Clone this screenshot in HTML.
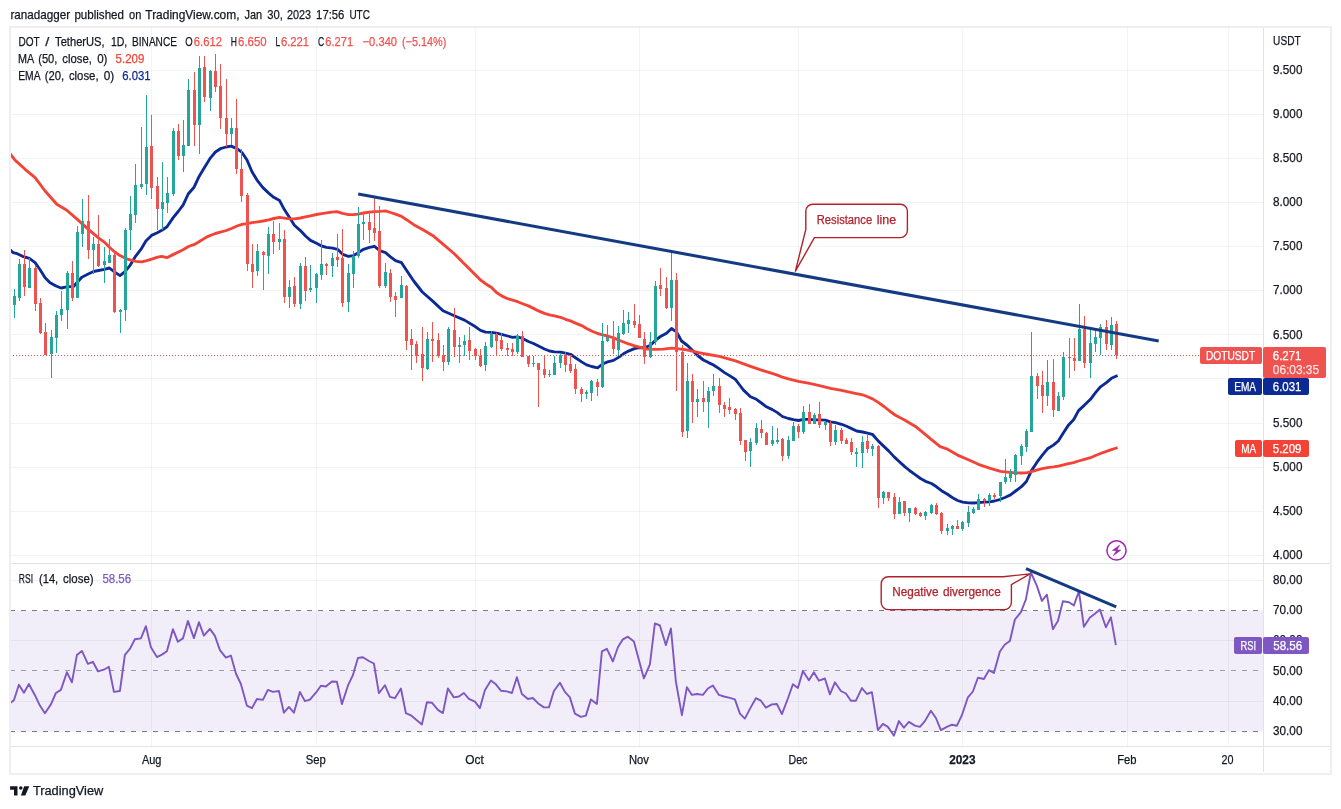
<!DOCTYPE html>
<html lang="en"><head><meta charset="utf-8"><title>DOT / TetherUS chart</title>
<style>html,body{margin:0;padding:0;background:#fff;}body{width:1341px;height:809px;overflow:hidden;}svg{display:block;}</style>
</head><body>
<svg width="1341" height="809" viewBox="0 0 1341 809" font-family='"Liberation Sans", "DejaVu Sans", sans-serif' shape-rendering="auto">
<rect width="1341" height="809" fill="#fff"/>
<rect x="10" y="27" width="1321" height="747" fill="#fff" stroke="#edeff4" stroke-width="2" shape-rendering="crispEdges"/>
<g stroke="#2a2e39" stroke-opacity="0.06" stroke-width="1" shape-rendering="crispEdges">
<line x1="151.5" y1="28" x2="151.5" y2="746"/>
<line x1="316.5" y1="28" x2="316.5" y2="746"/>
<line x1="475.5" y1="28" x2="475.5" y2="746"/>
<line x1="639.5" y1="28" x2="639.5" y2="746"/>
<line x1="798.5" y1="28" x2="798.5" y2="746"/>
<line x1="962.5" y1="28" x2="962.5" y2="746"/>
<line x1="1127.5" y1="28" x2="1127.5" y2="746"/>
<line x1="1228.5" y1="28" x2="1228.5" y2="746"/>
<line x1="11" y1="70.5" x2="1263" y2="70.5"/>
<line x1="11" y1="114.5" x2="1263" y2="114.5"/>
<line x1="11" y1="158.5" x2="1263" y2="158.5"/>
<line x1="11" y1="202.5" x2="1263" y2="202.5"/>
<line x1="11" y1="246.5" x2="1263" y2="246.5"/>
<line x1="11" y1="290.5" x2="1263" y2="290.5"/>
<line x1="11" y1="334.5" x2="1263" y2="334.5"/>
<line x1="11" y1="378.5" x2="1263" y2="378.5"/>
<line x1="11" y1="423.5" x2="1263" y2="423.5"/>
<line x1="11" y1="467.5" x2="1263" y2="467.5"/>
<line x1="11" y1="511.5" x2="1263" y2="511.5"/>
<line x1="11" y1="555.5" x2="1263" y2="555.5"/>
<line x1="11" y1="580.5" x2="1263" y2="580.5"/>
<line x1="11" y1="640.5" x2="1263" y2="640.5"/>
<line x1="11" y1="701.5" x2="1263" y2="701.5"/>
</g>
<rect x="11" y="610.5" width="1252" height="121.0" fill="#7e57c2" fill-opacity="0.1"/>
<line x1="11" y1="610.5" x2="1263" y2="610.5" stroke="#787b86" stroke-width="1" stroke-dasharray="5 6" stroke-dashoffset="0.7" shape-rendering="crispEdges"/>
<line x1="11" y1="731.5" x2="1263" y2="731.5" stroke="#787b86" stroke-width="1" stroke-dasharray="5 6" stroke-dashoffset="0.7" shape-rendering="crispEdges"/>
<line x1="11" y1="670.5" x2="1263" y2="670.5" stroke="#787b86" stroke-opacity="0.7" stroke-width="1" stroke-dasharray="5 6" stroke-dashoffset="0.7" shape-rendering="crispEdges"/>
<g stroke="#e0e3eb" stroke-width="1" shape-rendering="crispEdges">
<line x1="11" y1="563.5" x2="1330" y2="563.5"/>
<line x1="11" y1="746.5" x2="1330" y2="746.5"/>
<line x1="1263.5" y1="28" x2="1263.5" y2="772"/>
</g>
<clipPath id="pane"><rect x="11" y="28" width="1252" height="718"/></clipPath>
<path clip-path="url(#pane)" d="M8.0 247.8 L10.4 250.0 L13.0 252.6 L17.3 253.7 L22.5 256.3 L29.4 258.4 L35.1 262.6 L40.1 269.8 L45.1 277.7 L50.1 282.7 L56.0 286.0 L61.0 288.0 L66.8 286.9 L73.5 286.5 L77.7 281.8 L81.8 277.2 L87.7 274.3 L93.5 271.5 L98.5 270.5 L104.4 269.3 L109.4 268.0 L114.4 271.9 L120.0 275.6 L125.0 271.6 L130.1 265.3 L135.1 256.9 L140.9 249.4 L145.9 241.0 L151.5 235.4 L157.3 232.7 L162.3 230.0 L167.0 226.8 L173.2 217.6 L178.2 211.5 L183.2 204.8 L188.2 194.0 L194.1 187.2 L199.1 176.4 L204.0 168.2 L210.5 157.8 L215.4 152.0 L220.4 148.7 L226.0 147.0 L231.1 146.1 L237.0 148.6 L242.0 152.5 L247.0 160.0 L252.0 171.7 L257.0 180.1 L262.9 187.6 L268.7 193.1 L273.7 197.3 L279.6 200.6 L284.5 209.8 L289.5 217.6 L294.4 225.2 L300.4 230.6 L305.5 236.0 L310.5 240.4 L316.5 243.3 L321.5 246.0 L326.5 247.3 L332.6 248.1 L337.6 249.3 L342.6 254.3 L348.4 256.3 L353.4 255.6 L358.4 252.6 L363.5 249.3 L369.5 247.3 L374.5 246.3 L379.5 250.5 L385.5 252.6 L390.5 256.8 L395.5 260.7 L401.5 262.7 L406.5 270.2 L413.7 281.0 L422.3 292.0 L433.0 301.4 L443.0 310.8 L454.3 315.7 L464.5 320.1 L475.5 326.8 L480.5 330.4 L485.5 332.1 L491.5 332.3 L496.5 333.1 L501.6 334.3 L507.6 336.0 L512.6 337.3 L517.6 336.8 L522.6 338.5 L528.4 341.5 L533.5 343.5 L538.5 346.0 L544.5 349.0 L549.5 351.0 L554.5 351.8 L560.5 352.2 L565.5 353.2 L570.5 354.3 L575.5 357.7 L581.6 361.9 L586.6 364.9 L591.6 366.5 L597.6 367.9 L602.6 364.0 L607.6 361.9 L613.5 360.4 L618.5 357.4 L623.5 353.8 L628.4 351.1 L634.4 348.6 L639.4 347.7 L644.5 347.7 L650.5 345.2 L655.5 340.2 L660.5 336.5 L666.5 333.2 L671.5 328.5 L676.5 331.9 L681.5 341.0 L687.5 345.5 L692.6 350.5 L697.6 355.5 L703.4 360.0 L708.5 362.6 L713.5 365.0 L719.4 368.9 L724.5 372.6 L729.5 375.6 L735.2 379.2 L740.0 385.5 L743.5 390.1 L750.5 396.8 L756.4 399.3 L761.4 403.0 L766.4 406.8 L772.4 409.6 L777.4 412.6 L782.4 416.5 L788.4 418.5 L793.5 419.7 L798.5 420.5 L803.5 419.3 L809.5 419.3 L814.5 419.8 L819.5 419.8 L825.5 420.2 L830.5 421.8 L835.5 422.7 L841.6 424.3 L846.6 426.3 L851.6 428.6 L856.6 431.0 L862.6 432.0 L867.6 433.2 L872.6 434.5 L878.6 441.4 L883.6 446.1 L888.6 450.9 L894.4 457.1 L899.4 461.8 L904.5 466.4 L909.5 470.5 L915.5 474.8 L920.5 478.5 L925.5 481.3 L931.5 483.5 L936.5 486.8 L941.5 490.7 L947.5 494.3 L952.6 497.7 L957.6 500.5 L962.6 502.2 L968.4 502.9 L973.4 503.0 L978.4 502.7 L984.5 502.2 L989.5 501.9 L994.5 501.0 L1000.5 499.3 L1005.5 497.2 L1010.5 494.9 L1015.6 491.0 L1021.4 486.7 L1026.4 481.5 L1031.5 470.6 L1037.0 462.2 L1042.3 455.2 L1047.5 448.8 L1053.4 445.1 L1058.3 441.0 L1063.3 433.0 L1068.6 424.9 L1073.8 419.5 L1078.5 410.6 L1084.5 405.1 L1090.5 399.3 L1095.5 392.6 L1100.5 386.8 L1106.4 382.6 L1111.4 378.3 L1116.5 376.0 L1117.6 375.6" fill="none" stroke="#0c2a94" stroke-width="2.85" stroke-linejoin="round" stroke-linecap="butt"/>
<path clip-path="url(#pane)" d="M8.0 151.2 L10.4 154.2 L15.0 160.1 L25.1 169.3 L35.1 177.6 L45.1 191.0 L56.8 204.3 L66.8 210.2 L77.3 219.4 L88.4 229.4 L98.5 237.8 L105.0 242.7 L110.0 247.7 L115.0 252.2 L120.0 255.6 L125.9 258.6 L130.9 260.2 L135.9 261.4 L141.8 261.9 L146.8 260.7 L151.8 259.1 L157.6 257.2 L161.8 256.4 L166.8 257.7 L173.5 254.4 L178.5 251.9 L183.5 249.4 L188.5 246.5 L194.4 244.4 L200.2 241.0 L206.9 236.9 L215.3 233.5 L220.3 232.2 L226.4 230.5 L232.0 228.2 L237.0 226.0 L242.0 224.4 L247.0 223.7 L252.0 222.7 L257.8 221.8 L262.9 221.0 L268.7 219.8 L273.7 218.5 L279.6 217.3 L284.6 218.1 L289.6 218.8 L294.6 218.9 L300.4 218.0 L305.4 216.9 L310.5 215.8 L316.5 214.5 L321.5 213.7 L326.5 212.9 L331.7 212.2 L336.9 211.7 L342.6 213.4 L348.4 214.6 L353.4 214.7 L358.4 214.2 L363.5 213.0 L369.5 212.2 L374.5 211.7 L379.5 211.4 L385.5 210.9 L390.5 212.5 L395.5 214.2 L401.5 216.4 L406.5 219.7 L413.7 224.7 L422.1 229.3 L432.6 235.4 L442.1 243.4 L454.0 253.5 L464.5 264.0 L475.5 275.0 L480.5 280.0 L485.5 283.7 L491.5 287.5 L496.5 292.5 L501.6 295.9 L507.6 298.7 L512.6 300.1 L517.6 301.7 L522.6 303.7 L528.4 305.9 L533.5 308.4 L538.5 310.9 L544.5 313.4 L549.5 314.8 L554.5 315.9 L560.5 317.3 L565.5 319.3 L570.5 320.9 L575.5 323.1 L581.6 325.6 L586.6 328.4 L591.6 331.0 L597.6 333.5 L602.6 334.8 L607.6 336.0 L613.6 337.8 L618.5 340.0 L623.5 342.0 L628.4 343.9 L634.0 345.7 L639.4 347.2 L646.8 349.1 L655.5 349.4 L663.5 349.1 L671.5 348.1 L676.5 348.6 L685.2 349.6 L692.6 351.2 L698.6 352.7 L708.4 354.5 L719.5 356.4 L727.5 358.6 L735.5 360.9 L743.0 363.6 L750.5 366.4 L758.5 369.1 L766.4 371.7 L772.0 373.4 L777.4 375.1 L782.4 377.2 L788.4 378.9 L798.5 381.4 L809.5 383.4 L819.5 385.6 L830.5 388.4 L841.6 390.4 L851.6 392.6 L862.6 394.8 L867.6 396.8 L872.6 398.9 L878.6 402.6 L884.0 406.5 L889.5 410.8 L895.1 415.0 L904.5 420.0 L915.5 426.4 L925.5 434.7 L931.5 439.7 L940.2 446.7 L947.5 449.2 L957.6 455.1 L968.4 459.8 L978.4 464.3 L989.5 468.1 L1000.5 471.3 L1010.3 472.3 L1015.8 472.8 L1021.4 473.0 L1026.4 472.8 L1031.4 471.6 L1037.4 469.9 L1042.4 468.6 L1047.4 467.6 L1053.4 466.9 L1058.4 466.2 L1063.4 464.9 L1068.5 463.7 L1073.5 462.6 L1078.5 461.0 L1084.5 459.3 L1090.5 457.7 L1095.5 455.5 L1100.5 453.5 L1106.4 451.3 L1111.4 449.7 L1116.5 448.0 L1117.6 447.6" fill="none" stroke="#f44336" stroke-width="2.85" stroke-linejoin="round" stroke-linecap="butt"/>
<g shape-rendering="crispEdges">
<rect x="14.0" y="289" width="1" height="29" fill="#26a69a"/>
<rect x="13.0" y="296" width="3" height="9" fill="#26a69a"/>
<rect x="19.0" y="259" width="1" height="42" fill="#26a69a"/>
<rect x="18.0" y="264" width="3" height="34" fill="#26a69a"/>
<rect x="24.0" y="250" width="1" height="46" fill="#ef5350"/>
<rect x="23.0" y="264" width="3" height="23" fill="#ef5350"/>
<rect x="29.0" y="258" width="1" height="30" fill="#26a69a"/>
<rect x="28.0" y="268" width="3" height="20" fill="#26a69a"/>
<rect x="35.0" y="266" width="1" height="45" fill="#ef5350"/>
<rect x="34.0" y="268" width="3" height="36" fill="#ef5350"/>
<rect x="40.0" y="298" width="1" height="36" fill="#ef5350"/>
<rect x="39.0" y="303" width="3" height="30" fill="#ef5350"/>
<rect x="45.0" y="323" width="1" height="32" fill="#ef5350"/>
<rect x="44.0" y="332" width="3" height="23" fill="#ef5350"/>
<rect x="51.0" y="330" width="1" height="48" fill="#26a69a"/>
<rect x="50.0" y="337" width="3" height="17" fill="#26a69a"/>
<rect x="56.0" y="311" width="1" height="42" fill="#26a69a"/>
<rect x="55.0" y="315" width="3" height="23" fill="#26a69a"/>
<rect x="61.0" y="291" width="1" height="30" fill="#26a69a"/>
<rect x="60.0" y="309" width="3" height="6" fill="#26a69a"/>
<rect x="67.0" y="271" width="1" height="58" fill="#26a69a"/>
<rect x="66.0" y="273" width="3" height="37" fill="#26a69a"/>
<rect x="72.0" y="261" width="1" height="40" fill="#ef5350"/>
<rect x="71.0" y="273" width="3" height="25" fill="#ef5350"/>
<rect x="77.0" y="226" width="1" height="72" fill="#26a69a"/>
<rect x="76.0" y="232" width="3" height="66" fill="#26a69a"/>
<rect x="82.0" y="199" width="1" height="48" fill="#26a69a"/>
<rect x="81.0" y="221" width="3" height="13" fill="#26a69a"/>
<rect x="88.0" y="195" width="1" height="64" fill="#ef5350"/>
<rect x="87.0" y="221" width="3" height="29" fill="#ef5350"/>
<rect x="93.0" y="237" width="1" height="37" fill="#26a69a"/>
<rect x="92.0" y="244" width="3" height="6" fill="#26a69a"/>
<rect x="98.0" y="215" width="1" height="52" fill="#ef5350"/>
<rect x="97.0" y="244" width="3" height="22" fill="#ef5350"/>
<rect x="104.0" y="247" width="1" height="36" fill="#26a69a"/>
<rect x="103.0" y="261" width="3" height="4" fill="#26a69a"/>
<rect x="109.0" y="239" width="1" height="24" fill="#26a69a"/>
<rect x="108.0" y="255" width="3" height="8" fill="#26a69a"/>
<rect x="114.0" y="252" width="1" height="61" fill="#ef5350"/>
<rect x="113.0" y="255" width="3" height="57" fill="#ef5350"/>
<rect x="120.0" y="309" width="1" height="24" fill="#26a69a"/>
<rect x="119.0" y="310" width="3" height="2" fill="#26a69a"/>
<rect x="125.0" y="228" width="1" height="93" fill="#26a69a"/>
<rect x="124.0" y="230" width="3" height="80" fill="#26a69a"/>
<rect x="130.0" y="196" width="1" height="54" fill="#26a69a"/>
<rect x="129.0" y="214" width="3" height="16" fill="#26a69a"/>
<rect x="135.0" y="164" width="1" height="59" fill="#26a69a"/>
<rect x="134.0" y="185" width="3" height="30" fill="#26a69a"/>
<rect x="141.0" y="127" width="1" height="62" fill="#26a69a"/>
<rect x="140.0" y="184" width="3" height="3" fill="#26a69a"/>
<rect x="146.0" y="95" width="1" height="100" fill="#26a69a"/>
<rect x="145.0" y="147" width="3" height="37" fill="#26a69a"/>
<rect x="151.0" y="115" width="1" height="84" fill="#ef5350"/>
<rect x="150.0" y="146" width="3" height="42" fill="#ef5350"/>
<rect x="157.0" y="177" width="1" height="53" fill="#ef5350"/>
<rect x="156.0" y="186" width="3" height="23" fill="#ef5350"/>
<rect x="162.0" y="162" width="1" height="68" fill="#26a69a"/>
<rect x="161.0" y="202" width="3" height="7" fill="#26a69a"/>
<rect x="167.0" y="177" width="1" height="36" fill="#26a69a"/>
<rect x="166.0" y="193" width="3" height="10" fill="#26a69a"/>
<rect x="173.0" y="128" width="1" height="68" fill="#26a69a"/>
<rect x="172.0" y="131" width="3" height="63" fill="#26a69a"/>
<rect x="178.0" y="124" width="1" height="36" fill="#ef5350"/>
<rect x="177.0" y="131" width="3" height="25" fill="#ef5350"/>
<rect x="183.0" y="120" width="1" height="52" fill="#26a69a"/>
<rect x="182.0" y="145" width="3" height="11" fill="#26a69a"/>
<rect x="188.0" y="79" width="1" height="67" fill="#26a69a"/>
<rect x="187.0" y="90" width="3" height="56" fill="#26a69a"/>
<rect x="194.0" y="72" width="1" height="74" fill="#ef5350"/>
<rect x="193.0" y="90" width="3" height="35" fill="#ef5350"/>
<rect x="199.0" y="56" width="1" height="98" fill="#26a69a"/>
<rect x="198.0" y="68" width="3" height="57" fill="#26a69a"/>
<rect x="204.0" y="56" width="1" height="46" fill="#ef5350"/>
<rect x="203.0" y="67" width="3" height="30" fill="#ef5350"/>
<rect x="210.0" y="70" width="1" height="41" fill="#26a69a"/>
<rect x="209.0" y="71" width="3" height="27" fill="#26a69a"/>
<rect x="215.0" y="54" width="1" height="38" fill="#ef5350"/>
<rect x="214.0" y="71" width="3" height="16" fill="#ef5350"/>
<rect x="220.0" y="64" width="1" height="65" fill="#ef5350"/>
<rect x="219.0" y="86" width="3" height="32" fill="#ef5350"/>
<rect x="226.0" y="79" width="1" height="68" fill="#ef5350"/>
<rect x="225.0" y="118" width="3" height="16" fill="#ef5350"/>
<rect x="231.0" y="118" width="1" height="27" fill="#26a69a"/>
<rect x="230.0" y="128" width="3" height="6" fill="#26a69a"/>
<rect x="236.0" y="99" width="1" height="75" fill="#ef5350"/>
<rect x="235.0" y="128" width="3" height="41" fill="#ef5350"/>
<rect x="241.0" y="149" width="1" height="53" fill="#ef5350"/>
<rect x="240.0" y="169" width="3" height="27" fill="#ef5350"/>
<rect x="247.0" y="193" width="1" height="78" fill="#ef5350"/>
<rect x="246.0" y="195" width="3" height="69" fill="#ef5350"/>
<rect x="252.0" y="244" width="1" height="44" fill="#ef5350"/>
<rect x="251.0" y="264" width="3" height="8" fill="#ef5350"/>
<rect x="257.0" y="244" width="1" height="32" fill="#26a69a"/>
<rect x="256.0" y="251" width="3" height="20" fill="#26a69a"/>
<rect x="263.0" y="251" width="1" height="39" fill="#ef5350"/>
<rect x="262.0" y="252" width="3" height="3" fill="#ef5350"/>
<rect x="268.0" y="227" width="1" height="47" fill="#26a69a"/>
<rect x="267.0" y="234" width="3" height="22" fill="#26a69a"/>
<rect x="273.0" y="221" width="1" height="33" fill="#ef5350"/>
<rect x="272.0" y="234" width="3" height="8" fill="#ef5350"/>
<rect x="279.0" y="223" width="1" height="27" fill="#26a69a"/>
<rect x="278.0" y="239" width="3" height="3" fill="#26a69a"/>
<rect x="284.0" y="230" width="1" height="73" fill="#ef5350"/>
<rect x="283.0" y="239" width="3" height="58" fill="#ef5350"/>
<rect x="289.0" y="280" width="1" height="28" fill="#26a69a"/>
<rect x="288.0" y="287" width="3" height="10" fill="#26a69a"/>
<rect x="294.0" y="277" width="1" height="30" fill="#ef5350"/>
<rect x="293.0" y="286" width="3" height="18" fill="#ef5350"/>
<rect x="300.0" y="263" width="1" height="46" fill="#26a69a"/>
<rect x="299.0" y="266" width="3" height="38" fill="#26a69a"/>
<rect x="305.0" y="257" width="1" height="44" fill="#ef5350"/>
<rect x="304.0" y="266" width="3" height="25" fill="#ef5350"/>
<rect x="310.0" y="265" width="1" height="27" fill="#26a69a"/>
<rect x="309.0" y="288" width="3" height="2" fill="#26a69a"/>
<rect x="316.0" y="273" width="1" height="30" fill="#26a69a"/>
<rect x="315.0" y="274" width="3" height="14" fill="#26a69a"/>
<rect x="321.0" y="240" width="1" height="40" fill="#26a69a"/>
<rect x="320.0" y="264" width="3" height="11" fill="#26a69a"/>
<rect x="326.0" y="263" width="1" height="12" fill="#ef5350"/>
<rect x="325.0" y="264" width="3" height="2" fill="#ef5350"/>
<rect x="332.0" y="253" width="1" height="24" fill="#26a69a"/>
<rect x="331.0" y="258" width="3" height="8" fill="#26a69a"/>
<rect x="337.0" y="234" width="1" height="33" fill="#ef5350"/>
<rect x="336.0" y="257" width="3" height="3" fill="#ef5350"/>
<rect x="342.0" y="229" width="1" height="78" fill="#ef5350"/>
<rect x="341.0" y="258" width="3" height="45" fill="#ef5350"/>
<rect x="348.0" y="264" width="1" height="48" fill="#26a69a"/>
<rect x="347.0" y="273" width="3" height="29" fill="#26a69a"/>
<rect x="353.0" y="251" width="1" height="37" fill="#26a69a"/>
<rect x="352.0" y="256" width="3" height="18" fill="#26a69a"/>
<rect x="358.0" y="207" width="1" height="51" fill="#26a69a"/>
<rect x="357.0" y="224" width="3" height="32" fill="#26a69a"/>
<rect x="363.0" y="213" width="1" height="27" fill="#26a69a"/>
<rect x="362.0" y="222" width="3" height="2" fill="#26a69a"/>
<rect x="369.0" y="212" width="1" height="31" fill="#ef5350"/>
<rect x="368.0" y="222" width="3" height="8" fill="#ef5350"/>
<rect x="374.0" y="198" width="1" height="43" fill="#ef5350"/>
<rect x="373.0" y="228" width="3" height="5" fill="#ef5350"/>
<rect x="379.0" y="206" width="1" height="82" fill="#ef5350"/>
<rect x="378.0" y="231" width="3" height="55" fill="#ef5350"/>
<rect x="385.0" y="263" width="1" height="25" fill="#26a69a"/>
<rect x="384.0" y="272" width="3" height="14" fill="#26a69a"/>
<rect x="390.0" y="269" width="1" height="33" fill="#ef5350"/>
<rect x="389.0" y="273" width="3" height="24" fill="#ef5350"/>
<rect x="395.0" y="292" width="1" height="25" fill="#ef5350"/>
<rect x="394.0" y="296" width="3" height="4" fill="#ef5350"/>
<rect x="401.0" y="276" width="1" height="22" fill="#26a69a"/>
<rect x="400.0" y="285" width="3" height="13" fill="#26a69a"/>
<rect x="406.0" y="285" width="1" height="65" fill="#ef5350"/>
<rect x="405.0" y="286" width="3" height="55" fill="#ef5350"/>
<rect x="411.0" y="329" width="1" height="41" fill="#ef5350"/>
<rect x="410.0" y="339" width="3" height="6" fill="#ef5350"/>
<rect x="416.0" y="341" width="1" height="22" fill="#ef5350"/>
<rect x="415.0" y="344" width="3" height="12" fill="#ef5350"/>
<rect x="422.0" y="327" width="1" height="54" fill="#ef5350"/>
<rect x="421.0" y="354" width="3" height="14" fill="#ef5350"/>
<rect x="427.0" y="332" width="1" height="38" fill="#26a69a"/>
<rect x="426.0" y="339" width="3" height="30" fill="#26a69a"/>
<rect x="432.0" y="322" width="1" height="40" fill="#ef5350"/>
<rect x="431.0" y="339" width="3" height="2" fill="#ef5350"/>
<rect x="438.0" y="333" width="1" height="25" fill="#ef5350"/>
<rect x="437.0" y="340" width="3" height="16" fill="#ef5350"/>
<rect x="443.0" y="345" width="1" height="26" fill="#ef5350"/>
<rect x="442.0" y="355" width="3" height="7" fill="#ef5350"/>
<rect x="448.0" y="327" width="1" height="38" fill="#26a69a"/>
<rect x="447.0" y="329" width="3" height="33" fill="#26a69a"/>
<rect x="454.0" y="308" width="1" height="49" fill="#ef5350"/>
<rect x="453.0" y="330" width="3" height="17" fill="#ef5350"/>
<rect x="459.0" y="337" width="1" height="26" fill="#26a69a"/>
<rect x="458.0" y="345" width="3" height="2" fill="#26a69a"/>
<rect x="464.0" y="335" width="1" height="21" fill="#26a69a"/>
<rect x="463.0" y="341" width="3" height="4" fill="#26a69a"/>
<rect x="469.0" y="327" width="1" height="33" fill="#ef5350"/>
<rect x="468.0" y="340" width="3" height="11" fill="#ef5350"/>
<rect x="475.0" y="348" width="1" height="12" fill="#ef5350"/>
<rect x="474.0" y="349" width="3" height="7" fill="#ef5350"/>
<rect x="480.0" y="349" width="1" height="18" fill="#ef5350"/>
<rect x="479.0" y="356" width="3" height="10" fill="#ef5350"/>
<rect x="485.0" y="342" width="1" height="29" fill="#26a69a"/>
<rect x="484.0" y="346" width="3" height="19" fill="#26a69a"/>
<rect x="491.0" y="331" width="1" height="17" fill="#26a69a"/>
<rect x="490.0" y="334" width="3" height="13" fill="#26a69a"/>
<rect x="496.0" y="333" width="1" height="23" fill="#ef5350"/>
<rect x="495.0" y="334" width="3" height="7" fill="#ef5350"/>
<rect x="501.0" y="333" width="1" height="18" fill="#ef5350"/>
<rect x="500.0" y="340" width="3" height="9" fill="#ef5350"/>
<rect x="507.0" y="343" width="1" height="13" fill="#ef5350"/>
<rect x="506.0" y="348" width="3" height="2" fill="#ef5350"/>
<rect x="512.0" y="343" width="1" height="13" fill="#ef5350"/>
<rect x="511.0" y="349" width="3" height="3" fill="#ef5350"/>
<rect x="517.0" y="334" width="1" height="20" fill="#26a69a"/>
<rect x="516.0" y="336" width="3" height="16" fill="#26a69a"/>
<rect x="522.0" y="331" width="1" height="26" fill="#ef5350"/>
<rect x="521.0" y="336" width="3" height="21" fill="#ef5350"/>
<rect x="528.0" y="356" width="1" height="11" fill="#ef5350"/>
<rect x="527.0" y="356" width="3" height="8" fill="#ef5350"/>
<rect x="533.0" y="356" width="1" height="11" fill="#26a69a"/>
<rect x="532.0" y="363" width="3" height="1" fill="#26a69a"/>
<rect x="538.0" y="363" width="1" height="44" fill="#ef5350"/>
<rect x="537.0" y="363" width="3" height="7" fill="#ef5350"/>
<rect x="544.0" y="355" width="1" height="23" fill="#ef5350"/>
<rect x="543.0" y="369" width="3" height="6" fill="#ef5350"/>
<rect x="549.0" y="370" width="1" height="7" fill="#26a69a"/>
<rect x="548.0" y="374" width="3" height="1" fill="#26a69a"/>
<rect x="554.0" y="356" width="1" height="19" fill="#26a69a"/>
<rect x="553.0" y="363" width="3" height="12" fill="#26a69a"/>
<rect x="560.0" y="353" width="1" height="15" fill="#26a69a"/>
<rect x="559.0" y="355" width="3" height="8" fill="#26a69a"/>
<rect x="565.0" y="352" width="1" height="20" fill="#ef5350"/>
<rect x="564.0" y="355" width="3" height="10" fill="#ef5350"/>
<rect x="570.0" y="355" width="1" height="18" fill="#ef5350"/>
<rect x="569.0" y="364" width="3" height="7" fill="#ef5350"/>
<rect x="575.0" y="364" width="1" height="30" fill="#ef5350"/>
<rect x="574.0" y="369" width="3" height="20" fill="#ef5350"/>
<rect x="581.0" y="387" width="1" height="15" fill="#ef5350"/>
<rect x="580.0" y="389" width="3" height="5" fill="#ef5350"/>
<rect x="586.0" y="390" width="1" height="9" fill="#26a69a"/>
<rect x="585.0" y="392" width="3" height="2" fill="#26a69a"/>
<rect x="591.0" y="380" width="1" height="21" fill="#26a69a"/>
<rect x="590.0" y="381" width="3" height="12" fill="#26a69a"/>
<rect x="597.0" y="379" width="1" height="17" fill="#ef5350"/>
<rect x="596.0" y="382" width="3" height="5" fill="#ef5350"/>
<rect x="602.0" y="323" width="1" height="65" fill="#26a69a"/>
<rect x="601.0" y="341" width="3" height="46" fill="#26a69a"/>
<rect x="607.0" y="325" width="1" height="17" fill="#26a69a"/>
<rect x="606.0" y="337" width="3" height="4" fill="#26a69a"/>
<rect x="613.0" y="321" width="1" height="33" fill="#ef5350"/>
<rect x="612.0" y="337" width="3" height="12" fill="#ef5350"/>
<rect x="618.0" y="326" width="1" height="30" fill="#26a69a"/>
<rect x="617.0" y="333" width="3" height="17" fill="#26a69a"/>
<rect x="623.0" y="310" width="1" height="25" fill="#26a69a"/>
<rect x="622.0" y="323" width="3" height="11" fill="#26a69a"/>
<rect x="628.0" y="312" width="1" height="21" fill="#26a69a"/>
<rect x="627.0" y="320" width="3" height="4" fill="#26a69a"/>
<rect x="634.0" y="304" width="1" height="24" fill="#ef5350"/>
<rect x="633.0" y="321" width="3" height="4" fill="#ef5350"/>
<rect x="639.0" y="315" width="1" height="23" fill="#ef5350"/>
<rect x="638.0" y="324" width="3" height="14" fill="#ef5350"/>
<rect x="644.0" y="332" width="1" height="32" fill="#ef5350"/>
<rect x="643.0" y="339" width="3" height="18" fill="#ef5350"/>
<rect x="650.0" y="332" width="1" height="26" fill="#26a69a"/>
<rect x="649.0" y="342" width="3" height="15" fill="#26a69a"/>
<rect x="655.0" y="281" width="1" height="64" fill="#26a69a"/>
<rect x="654.0" y="286" width="3" height="56" fill="#26a69a"/>
<rect x="660.0" y="268" width="1" height="28" fill="#ef5350"/>
<rect x="659.0" y="285" width="3" height="4" fill="#ef5350"/>
<rect x="666.0" y="277" width="1" height="32" fill="#ef5350"/>
<rect x="665.0" y="288" width="3" height="20" fill="#ef5350"/>
<rect x="671.0" y="253" width="1" height="68" fill="#26a69a"/>
<rect x="670.0" y="280" width="3" height="28" fill="#26a69a"/>
<rect x="676.0" y="273" width="1" height="118" fill="#ef5350"/>
<rect x="675.0" y="280" width="3" height="72" fill="#ef5350"/>
<rect x="682.0" y="345" width="1" height="92" fill="#ef5350"/>
<rect x="681.0" y="352" width="3" height="80" fill="#ef5350"/>
<rect x="687.0" y="363" width="1" height="75" fill="#26a69a"/>
<rect x="686.0" y="381" width="3" height="50" fill="#26a69a"/>
<rect x="692.0" y="374" width="1" height="49" fill="#ef5350"/>
<rect x="691.0" y="381" width="3" height="21" fill="#ef5350"/>
<rect x="697.0" y="389" width="1" height="28" fill="#26a69a"/>
<rect x="696.0" y="399" width="3" height="3" fill="#26a69a"/>
<rect x="703.0" y="381" width="1" height="31" fill="#ef5350"/>
<rect x="702.0" y="398" width="3" height="4" fill="#ef5350"/>
<rect x="708.0" y="387" width="1" height="41" fill="#26a69a"/>
<rect x="707.0" y="391" width="3" height="11" fill="#26a69a"/>
<rect x="713.0" y="374" width="1" height="22" fill="#26a69a"/>
<rect x="712.0" y="386" width="3" height="5" fill="#26a69a"/>
<rect x="719.0" y="378" width="1" height="35" fill="#ef5350"/>
<rect x="718.0" y="386" width="3" height="19" fill="#ef5350"/>
<rect x="724.0" y="402" width="1" height="15" fill="#ef5350"/>
<rect x="723.0" y="405" width="3" height="4" fill="#ef5350"/>
<rect x="729.0" y="398" width="1" height="16" fill="#ef5350"/>
<rect x="728.0" y="407" width="3" height="3" fill="#ef5350"/>
<rect x="735.0" y="408" width="1" height="12" fill="#ef5350"/>
<rect x="734.0" y="409" width="3" height="5" fill="#ef5350"/>
<rect x="740.0" y="408" width="1" height="37" fill="#ef5350"/>
<rect x="739.0" y="413" width="3" height="28" fill="#ef5350"/>
<rect x="745.0" y="440" width="1" height="21" fill="#ef5350"/>
<rect x="744.0" y="440" width="3" height="12" fill="#ef5350"/>
<rect x="750.0" y="438" width="1" height="29" fill="#26a69a"/>
<rect x="749.0" y="442" width="3" height="9" fill="#26a69a"/>
<rect x="756.0" y="423" width="1" height="22" fill="#26a69a"/>
<rect x="755.0" y="428" width="3" height="15" fill="#26a69a"/>
<rect x="761.0" y="420" width="1" height="18" fill="#ef5350"/>
<rect x="760.0" y="429" width="3" height="4" fill="#ef5350"/>
<rect x="766.0" y="432" width="1" height="13" fill="#ef5350"/>
<rect x="765.0" y="433" width="3" height="12" fill="#ef5350"/>
<rect x="772.0" y="426" width="1" height="20" fill="#26a69a"/>
<rect x="771.0" y="440" width="3" height="4" fill="#26a69a"/>
<rect x="777.0" y="428" width="1" height="16" fill="#26a69a"/>
<rect x="776.0" y="440" width="3" height="2" fill="#26a69a"/>
<rect x="782.0" y="438" width="1" height="23" fill="#ef5350"/>
<rect x="781.0" y="439" width="3" height="17" fill="#ef5350"/>
<rect x="788.0" y="436" width="1" height="23" fill="#26a69a"/>
<rect x="787.0" y="440" width="3" height="16" fill="#26a69a"/>
<rect x="793.0" y="422" width="1" height="19" fill="#26a69a"/>
<rect x="792.0" y="426" width="3" height="15" fill="#26a69a"/>
<rect x="798.0" y="424" width="1" height="14" fill="#ef5350"/>
<rect x="797.0" y="426" width="3" height="6" fill="#ef5350"/>
<rect x="803.0" y="406" width="1" height="28" fill="#26a69a"/>
<rect x="802.0" y="412" width="3" height="20" fill="#26a69a"/>
<rect x="809.0" y="404" width="1" height="20" fill="#ef5350"/>
<rect x="808.0" y="412" width="3" height="12" fill="#ef5350"/>
<rect x="814.0" y="413" width="1" height="11" fill="#26a69a"/>
<rect x="813.0" y="415" width="3" height="9" fill="#26a69a"/>
<rect x="819.0" y="402" width="1" height="26" fill="#ef5350"/>
<rect x="818.0" y="414" width="3" height="11" fill="#ef5350"/>
<rect x="825.0" y="421" width="1" height="9" fill="#26a69a"/>
<rect x="824.0" y="422" width="3" height="3" fill="#26a69a"/>
<rect x="830.0" y="420" width="1" height="26" fill="#ef5350"/>
<rect x="829.0" y="423" width="3" height="19" fill="#ef5350"/>
<rect x="835.0" y="425" width="1" height="20" fill="#26a69a"/>
<rect x="834.0" y="430" width="3" height="12" fill="#26a69a"/>
<rect x="841.0" y="428" width="1" height="16" fill="#ef5350"/>
<rect x="840.0" y="430" width="3" height="11" fill="#ef5350"/>
<rect x="846.0" y="438" width="1" height="6" fill="#ef5350"/>
<rect x="845.0" y="440" width="3" height="4" fill="#ef5350"/>
<rect x="851.0" y="438" width="1" height="17" fill="#ef5350"/>
<rect x="850.0" y="442" width="3" height="10" fill="#ef5350"/>
<rect x="856.0" y="448" width="1" height="19" fill="#26a69a"/>
<rect x="855.0" y="452" width="3" height="2" fill="#26a69a"/>
<rect x="862.0" y="436" width="1" height="32" fill="#26a69a"/>
<rect x="861.0" y="442" width="3" height="11" fill="#26a69a"/>
<rect x="867.0" y="435" width="1" height="18" fill="#ef5350"/>
<rect x="866.0" y="441" width="3" height="8" fill="#ef5350"/>
<rect x="872.0" y="444" width="1" height="12" fill="#26a69a"/>
<rect x="871.0" y="446" width="3" height="3" fill="#26a69a"/>
<rect x="878.0" y="445" width="1" height="63" fill="#ef5350"/>
<rect x="877.0" y="446" width="3" height="52" fill="#ef5350"/>
<rect x="883.0" y="491" width="1" height="13" fill="#26a69a"/>
<rect x="882.0" y="492" width="3" height="6" fill="#26a69a"/>
<rect x="888.0" y="492" width="1" height="9" fill="#ef5350"/>
<rect x="887.0" y="492" width="3" height="6" fill="#ef5350"/>
<rect x="894.0" y="493" width="1" height="26" fill="#ef5350"/>
<rect x="893.0" y="497" width="3" height="17" fill="#ef5350"/>
<rect x="899.0" y="497" width="1" height="17" fill="#26a69a"/>
<rect x="898.0" y="502" width="3" height="12" fill="#26a69a"/>
<rect x="904.0" y="501" width="1" height="15" fill="#ef5350"/>
<rect x="903.0" y="501" width="3" height="12" fill="#ef5350"/>
<rect x="909.0" y="508" width="1" height="14" fill="#26a69a"/>
<rect x="908.0" y="508" width="3" height="5" fill="#26a69a"/>
<rect x="915.0" y="507" width="1" height="8" fill="#ef5350"/>
<rect x="914.0" y="508" width="3" height="6" fill="#ef5350"/>
<rect x="920.0" y="512" width="1" height="5" fill="#ef5350"/>
<rect x="919.0" y="513" width="3" height="3" fill="#ef5350"/>
<rect x="925.0" y="511" width="1" height="9" fill="#26a69a"/>
<rect x="924.0" y="512" width="3" height="4" fill="#26a69a"/>
<rect x="931.0" y="504" width="1" height="10" fill="#26a69a"/>
<rect x="930.0" y="505" width="3" height="8" fill="#26a69a"/>
<rect x="936.0" y="503" width="1" height="12" fill="#ef5350"/>
<rect x="935.0" y="505" width="3" height="9" fill="#ef5350"/>
<rect x="941.0" y="512" width="1" height="22" fill="#ef5350"/>
<rect x="940.0" y="513" width="3" height="18" fill="#ef5350"/>
<rect x="947.0" y="524" width="1" height="11" fill="#26a69a"/>
<rect x="946.0" y="528" width="3" height="3" fill="#26a69a"/>
<rect x="952.0" y="525" width="1" height="10" fill="#26a69a"/>
<rect x="951.0" y="526" width="3" height="3" fill="#26a69a"/>
<rect x="957.0" y="520" width="1" height="9" fill="#ef5350"/>
<rect x="956.0" y="526" width="3" height="3" fill="#ef5350"/>
<rect x="962.0" y="521" width="1" height="10" fill="#26a69a"/>
<rect x="961.0" y="522" width="3" height="7" fill="#26a69a"/>
<rect x="968.0" y="506" width="1" height="21" fill="#26a69a"/>
<rect x="967.0" y="512" width="3" height="11" fill="#26a69a"/>
<rect x="973.0" y="507" width="1" height="7" fill="#26a69a"/>
<rect x="972.0" y="509" width="3" height="4" fill="#26a69a"/>
<rect x="978.0" y="494" width="1" height="16" fill="#26a69a"/>
<rect x="977.0" y="499" width="3" height="11" fill="#26a69a"/>
<rect x="984.0" y="498" width="1" height="9" fill="#ef5350"/>
<rect x="983.0" y="499" width="3" height="2" fill="#ef5350"/>
<rect x="989.0" y="493" width="1" height="13" fill="#26a69a"/>
<rect x="988.0" y="495" width="3" height="6" fill="#26a69a"/>
<rect x="994.0" y="493" width="1" height="6" fill="#ef5350"/>
<rect x="993.0" y="495" width="3" height="2" fill="#ef5350"/>
<rect x="1000.0" y="482" width="1" height="20" fill="#26a69a"/>
<rect x="999.0" y="482" width="3" height="14" fill="#26a69a"/>
<rect x="1005.0" y="459" width="1" height="25" fill="#26a69a"/>
<rect x="1004.0" y="477" width="3" height="5" fill="#26a69a"/>
<rect x="1010.0" y="469" width="1" height="13" fill="#26a69a"/>
<rect x="1009.0" y="471" width="3" height="7" fill="#26a69a"/>
<rect x="1015.0" y="454" width="1" height="28" fill="#26a69a"/>
<rect x="1014.0" y="455" width="3" height="20" fill="#26a69a"/>
<rect x="1021.0" y="444" width="1" height="21" fill="#26a69a"/>
<rect x="1020.0" y="446" width="3" height="10" fill="#26a69a"/>
<rect x="1026.0" y="429" width="1" height="23" fill="#26a69a"/>
<rect x="1025.0" y="431" width="3" height="16" fill="#26a69a"/>
<rect x="1031.0" y="332" width="1" height="100" fill="#26a69a"/>
<rect x="1030.0" y="376" width="3" height="56" fill="#26a69a"/>
<rect x="1037.0" y="373" width="1" height="26" fill="#ef5350"/>
<rect x="1036.0" y="376" width="3" height="10" fill="#ef5350"/>
<rect x="1042.0" y="371" width="1" height="42" fill="#ef5350"/>
<rect x="1041.0" y="385" width="3" height="11" fill="#ef5350"/>
<rect x="1047.0" y="360" width="1" height="46" fill="#26a69a"/>
<rect x="1046.0" y="382" width="3" height="14" fill="#26a69a"/>
<rect x="1053.0" y="359" width="1" height="58" fill="#ef5350"/>
<rect x="1052.0" y="382" width="3" height="28" fill="#ef5350"/>
<rect x="1058.0" y="392" width="1" height="19" fill="#26a69a"/>
<rect x="1057.0" y="396" width="3" height="15" fill="#26a69a"/>
<rect x="1063.0" y="352" width="1" height="48" fill="#26a69a"/>
<rect x="1062.0" y="357" width="3" height="40" fill="#26a69a"/>
<rect x="1069.0" y="338" width="1" height="40" fill="#ef5350"/>
<rect x="1068.0" y="357" width="3" height="1" fill="#ef5350"/>
<rect x="1074.0" y="338" width="1" height="33" fill="#ef5350"/>
<rect x="1073.0" y="358" width="3" height="3" fill="#ef5350"/>
<rect x="1079.0" y="304" width="1" height="57" fill="#26a69a"/>
<rect x="1078.0" y="329" width="3" height="32" fill="#26a69a"/>
<rect x="1084.0" y="316" width="1" height="52" fill="#ef5350"/>
<rect x="1083.0" y="329" width="3" height="34" fill="#ef5350"/>
<rect x="1090.0" y="329" width="1" height="49" fill="#26a69a"/>
<rect x="1089.0" y="343" width="3" height="20" fill="#26a69a"/>
<rect x="1095.0" y="329" width="1" height="23" fill="#26a69a"/>
<rect x="1094.0" y="337" width="3" height="7" fill="#26a69a"/>
<rect x="1100.0" y="324" width="1" height="31" fill="#26a69a"/>
<rect x="1099.0" y="327" width="3" height="11" fill="#26a69a"/>
<rect x="1106.0" y="320" width="1" height="30" fill="#ef5350"/>
<rect x="1105.0" y="327" width="3" height="17" fill="#ef5350"/>
<rect x="1111.0" y="317" width="1" height="33" fill="#26a69a"/>
<rect x="1110.0" y="325" width="3" height="20" fill="#26a69a"/>
<rect x="1116.0" y="321" width="1" height="38" fill="#ef5350"/>
<rect x="1115.0" y="324" width="3" height="31" fill="#ef5350"/>
</g>
<line x1="11" y1="355.5" x2="1200" y2="355.5" stroke="#ef5350" stroke-width="1" stroke-dasharray="1 2" stroke-dashoffset="1" shape-rendering="crispEdges"/>
<path clip-path="url(#pane)" d="M8.5 704.2 L13.9 700.2 L18.9 684.7 L23.9 692.7 L28.9 684.0 L34.9 695.2 L39.9 705.6 L44.9 713.2 L50.9 704.4 L55.9 693.0 L60.9 689.9 L66.9 672.2 L71.9 682.3 L76.9 655.1 L81.9 650.9 L87.9 663.8 L92.9 661.8 L97.9 671.3 L103.9 669.7 L108.9 666.8 L113.9 691.9 L119.9 691.0 L124.9 654.8 L129.9 648.9 L134.9 639.3 L140.9 638.4 L145.9 626.2 L150.9 647.3 L156.9 657.1 L161.9 654.6 L166.9 651.3 L172.9 629.2 L177.9 641.8 L182.9 638.4 L187.9 620.9 L193.9 638.1 L198.9 622.2 L203.9 635.6 L209.9 628.9 L214.9 635.9 L219.9 650.1 L225.9 657.6 L230.9 655.6 L235.9 673.5 L240.9 684.0 L246.9 705.7 L251.9 708.2 L256.9 699.0 L262.9 699.9 L267.9 689.9 L272.9 691.9 L278.9 691.0 L283.9 712.7 L288.9 706.9 L293.9 712.7 L299.9 691.9 L304.9 701.1 L309.9 699.7 L315.9 692.7 L320.9 685.7 L325.9 686.5 L331.9 681.5 L336.9 681.8 L341.9 704.1 L347.9 685.7 L352.9 675.2 L357.9 658.0 L362.9 657.3 L368.9 661.0 L373.9 663.5 L378.9 693.2 L384.9 685.2 L389.9 696.9 L394.9 698.2 L400.9 688.5 L405.9 713.2 L410.9 715.3 L415.9 719.4 L421.9 724.4 L426.9 702.2 L431.9 702.7 L437.9 709.9 L442.9 713.1 L447.9 688.5 L453.9 697.4 L458.9 696.5 L463.9 693.0 L468.9 698.9 L474.9 701.6 L479.9 708.1 L484.9 690.2 L490.9 680.5 L495.9 684.3 L500.9 690.7 L506.9 691.4 L511.9 693.0 L516.9 677.2 L521.9 694.0 L527.9 699.0 L532.9 698.0 L537.9 703.2 L543.9 707.4 L548.9 707.4 L553.9 691.0 L559.9 682.7 L564.9 691.9 L569.9 697.4 L574.9 713.6 L580.9 716.9 L585.9 715.6 L590.9 699.4 L596.9 703.9 L601.9 651.4 L606.9 648.8 L612.9 661.5 L617.9 647.3 L622.9 639.3 L627.9 636.7 L633.9 641.4 L638.9 660.1 L643.9 678.4 L649.9 664.3 L654.9 623.4 L659.9 625.5 L665.9 645.1 L670.9 628.4 L675.9 681.8 L681.9 715.2 L686.9 687.2 L691.9 694.9 L696.9 694.0 L702.9 694.9 L707.9 688.5 L712.9 685.5 L718.9 694.9 L723.9 696.5 L728.9 697.7 L734.9 699.4 L739.9 713.6 L744.9 718.6 L749.9 708.9 L755.9 698.2 L760.9 700.7 L765.9 707.7 L771.9 704.4 L776.9 704.0 L781.9 714.1 L787.9 698.5 L792.9 684.3 L797.9 688.0 L802.9 671.0 L808.9 680.2 L813.9 672.3 L818.9 680.7 L824.9 678.5 L829.9 694.4 L834.9 682.3 L840.9 691.0 L845.9 693.5 L850.9 700.7 L855.9 700.7 L861.9 688.1 L866.9 694.0 L871.9 692.2 L877.9 730.2 L882.9 723.9 L887.9 726.9 L893.9 735.8 L898.9 721.1 L903.9 727.7 L908.9 721.9 L914.9 725.6 L919.9 726.9 L924.9 721.1 L930.9 710.7 L935.9 718.0 L940.9 730.2 L946.9 726.9 L951.9 724.7 L956.9 725.7 L961.9 715.2 L967.9 697.3 L972.9 691.5 L977.9 677.7 L983.9 679.0 L988.9 670.2 L993.9 673.0 L999.9 651.5 L1004.9 644.5 L1009.9 641.0 L1014.9 619.5 L1020.9 612.1 L1025.9 599.3 L1030.9 572.5 L1036.9 585.9 L1041.9 600.9 L1046.9 594.7 L1052.9 629.3 L1057.9 621.0 L1062.9 601.3 L1068.9 602.3 L1073.9 605.4 L1078.9 591.4 L1083.9 626.8 L1089.9 617.6 L1094.9 613.8 L1099.9 609.6 L1105.9 627.3 L1110.9 617.3 L1115.9 645.2" fill="none" stroke="#7e57c2" stroke-width="1.9" stroke-linejoin="round"/>
<line x1="358.2" y1="194.0" x2="1158.7" y2="340.9" stroke="#143a84" stroke-width="3.05"/>
<line x1="1026" y1="568.7" x2="1116.2" y2="606.8" stroke="#143a84" stroke-width="3.05"/>
<path d="M805.8 211.2 a7 7 0 0 1 7 -7 h87.6 a7 7 0 0 1 7 7 v19.4 a7 7 0 0 1 -7 7 h-86 L795.4 271.2 L805.8 229.4 Z" fill="#fff" stroke="#b2222b" stroke-width="1.4" stroke-linejoin="round"/>
<path d="M881.2 583.7 a7 7 0 0 1 7 -7 h114.9 L1030 573.9 L1011.4 584.6 v18 a7 7 0 0 1 -7 7 h-116.2 a7 7 0 0 1 -7 -7 Z" fill="#fff" stroke="#b2222b" stroke-width="1.4" stroke-linejoin="round"/>
<circle cx="1116.5" cy="550.4" r="9.6" fill="#fff" stroke="#9c27b0" stroke-width="1.5"/>
<path d="M1119.7 545.1 L1112.3 550.4 L1116.4 550.8 L1113.1 555.8 L1120.8 550.2 L1117.1 549.8 Z" fill="#9c27b0" stroke="#9c27b0" stroke-width="0.5" stroke-linejoin="round"/>
<clipPath id="c60"><rect x="1264" y="620" width="66" height="17"/></clipPath>
<rect x="1200" y="347" width="62" height="17" rx="2" fill="#ef5350"/>
<rect x="1263" y="347" width="63" height="31" rx="2" fill="#ef5350"/>
<rect x="1228" y="378" width="34" height="17" rx="2" fill="#0c2a94"/>
<rect x="1263" y="378" width="46" height="17" rx="2" fill="#0c2a94"/>
<rect x="1235" y="440" width="27" height="17" rx="2" fill="#f44336"/>
<rect x="1263" y="440" width="46" height="17" rx="2" fill="#f44336"/>
<rect x="1234" y="637" width="28" height="17" rx="2" fill="#7e57c2"/>
<rect x="1263" y="637" width="46" height="17" rx="2" fill="#7e57c2"/>
<g fill="#131722">
<path d="M10.1 786.3 H17.5 V795.5 H14 V789.8 H10.1 Z"/>
<circle cx="20.8" cy="788" r="1.8"/>
<path d="M24.2 786.3 H29.3 L25.3 795.5 H20.9 Z"/>
</g>
<g fill="#131722" stroke="#131722" stroke-width="0.25" style="will-change:transform">
<text y="224.2" font-size="12" fill="#b2222b" stroke="#b2222b"><tspan x="816.7" textLength="55.5" lengthAdjust="spacingAndGlyphs">Resistance</tspan> <tspan x="876.8" textLength="19.4" lengthAdjust="spacingAndGlyphs">line</tspan></text>
<text y="595.8" font-size="12" fill="#b2222b" stroke="#b2222b"><tspan x="892.2" textLength="46.3" lengthAdjust="spacingAndGlyphs">Negative</tspan> <tspan x="942.9" textLength="57.9" lengthAdjust="spacingAndGlyphs">divergence</tspan></text>
<text x="1273.1" y="44.7" font-size="12.4" textLength="27.5" lengthAdjust="spacingAndGlyphs">USDT</text>
<text x="1273.1" y="73.8" font-size="12.4" textLength="29.3" lengthAdjust="spacingAndGlyphs">9.500</text>
<text x="1273.1" y="118.0" font-size="12.4" textLength="29.3" lengthAdjust="spacingAndGlyphs">9.000</text>
<text x="1273.1" y="162.1" font-size="12.4" textLength="29.3" lengthAdjust="spacingAndGlyphs">8.500</text>
<text x="1273.1" y="206.2" font-size="12.4" textLength="29.3" lengthAdjust="spacingAndGlyphs">8.000</text>
<text x="1273.1" y="250.3" font-size="12.4" textLength="29.3" lengthAdjust="spacingAndGlyphs">7.500</text>
<text x="1273.1" y="294.4" font-size="12.4" textLength="29.3" lengthAdjust="spacingAndGlyphs">7.000</text>
<text x="1273.1" y="338.6" font-size="12.4" textLength="29.3" lengthAdjust="spacingAndGlyphs">6.500</text>
<text x="1273.1" y="426.8" font-size="12.4" textLength="29.3" lengthAdjust="spacingAndGlyphs">5.500</text>
<text x="1273.1" y="470.9" font-size="12.4" textLength="29.3" lengthAdjust="spacingAndGlyphs">5.000</text>
<text x="1273.1" y="515.1" font-size="12.4" textLength="29.3" lengthAdjust="spacingAndGlyphs">4.500</text>
<text x="1273.1" y="559.2" font-size="12.4" textLength="29.3" lengthAdjust="spacingAndGlyphs">4.000</text>
<text x="1273.1" y="583.8" font-size="12.4" textLength="29.3" lengthAdjust="spacingAndGlyphs">80.00</text>
<text x="1273.1" y="614.0" font-size="12.4" textLength="29.3" lengthAdjust="spacingAndGlyphs">70.00</text>
<text clip-path="url(#c60)" x="1273.1" y="644.2" font-size="12.4" textLength="29.3" lengthAdjust="spacingAndGlyphs">60.00</text>
<text x="1273.1" y="674.5" font-size="12.4" textLength="29.3" lengthAdjust="spacingAndGlyphs">50.00</text>
<text x="1273.1" y="704.7" font-size="12.4" textLength="29.3" lengthAdjust="spacingAndGlyphs">40.00</text>
<text x="1273.1" y="734.9" font-size="12.4" textLength="29.3" lengthAdjust="spacingAndGlyphs">30.00</text>
<text x="141.9" y="763.9" font-size="12.4" textLength="19.5" lengthAdjust="spacingAndGlyphs">Aug</text>
<text x="305.8" y="763.9" font-size="12.4" textLength="20" lengthAdjust="spacingAndGlyphs">Sep</text>
<text x="465.2" y="763.9" font-size="12.4" textLength="18.5" lengthAdjust="spacingAndGlyphs">Oct</text>
<text x="629.0" y="763.9" font-size="12.4" textLength="20" lengthAdjust="spacingAndGlyphs">Nov</text>
<text x="788.5" y="763.9" font-size="12.4" textLength="18.9" lengthAdjust="spacingAndGlyphs">Dec</text>
<text x="949.2" y="763.9" font-size="12.4" font-weight="bold" textLength="26.3" lengthAdjust="spacingAndGlyphs">2023</text>
<text x="1117.2" y="763.9" font-size="12.4" textLength="19.3" lengthAdjust="spacingAndGlyphs">Feb</text>
<text x="1221.6" y="763.9" font-size="12.4" textLength="12" lengthAdjust="spacingAndGlyphs">20</text>
<text x="1206" y="359.7" font-size="12.4" fill="#fff" stroke="#fff" textLength="49.1" lengthAdjust="spacingAndGlyphs">DOTUSDT</text>
<text x="1272.8" y="359.7" font-size="12.4" fill="#fff" stroke="#fff" textLength="28.7" lengthAdjust="spacingAndGlyphs">6.271</text>
<text x="1272.8" y="374" font-size="12.4" fill="#fff" stroke="#fff" fill-opacity="0.78" stroke-opacity="0.78" textLength="46.3" lengthAdjust="spacingAndGlyphs">06:03:35</text>
<text x="1234.2" y="390.9" font-size="12.4" fill="#fff" stroke="#fff" textLength="21.9" lengthAdjust="spacingAndGlyphs">EMA</text>
<text x="1272.8" y="390.9" font-size="12.4" fill="#fff" stroke="#fff" textLength="28.7" lengthAdjust="spacingAndGlyphs">6.031</text>
<text x="1241.2" y="452.8" font-size="12.4" fill="#fff" stroke="#fff" textLength="14.9" lengthAdjust="spacingAndGlyphs">MA</text>
<text x="1272.8" y="452.8" font-size="12.4" fill="#fff" stroke="#fff" textLength="28.7" lengthAdjust="spacingAndGlyphs">5.209</text>
<text x="1240.4" y="650.2" font-size="12.4" fill="#fff" stroke="#fff" textLength="15.6" lengthAdjust="spacingAndGlyphs">RSI</text>
<text x="1273.2" y="650.2" font-size="12.4" fill="#fff" stroke="#fff" textLength="29" lengthAdjust="spacingAndGlyphs">58.56</text>
<text y="18.8" font-size="12.7"><tspan x="10.4" textLength="59.8" lengthAdjust="spacingAndGlyphs">ranadagger</tspan> <tspan x="74.4" textLength="49.6" lengthAdjust="spacingAndGlyphs">published</tspan> <tspan x="129.0" textLength="12.3" lengthAdjust="spacingAndGlyphs">on</tspan> <tspan x="145.3" textLength="94.2" lengthAdjust="spacingAndGlyphs">TradingView.com,</tspan> <tspan x="244.5" textLength="17.7" lengthAdjust="spacingAndGlyphs">Jan</tspan> <tspan x="267.2" textLength="15.6" lengthAdjust="spacingAndGlyphs">30,</tspan> <tspan x="287.0" textLength="24.1" lengthAdjust="spacingAndGlyphs">2023</tspan> <tspan x="316.1" textLength="28.3" lengthAdjust="spacingAndGlyphs">17:56</tspan> <tspan x="349.4" textLength="20.5" lengthAdjust="spacingAndGlyphs">UTC</tspan></text>
<text y="45.7" font-size="12.4"><tspan x="18.5" textLength="21" lengthAdjust="spacingAndGlyphs">DOT</tspan> <tspan x="45.2" textLength="4" lengthAdjust="spacingAndGlyphs">/</tspan> <tspan x="55.1" textLength="49.5" lengthAdjust="spacingAndGlyphs">TetherUS,</tspan> <tspan x="110.9" textLength="16.4" lengthAdjust="spacingAndGlyphs">1D,</tspan> <tspan x="132.1" textLength="44.8" lengthAdjust="spacingAndGlyphs">BINANCE</tspan> <tspan x="185.3" textLength="7.4" lengthAdjust="spacingAndGlyphs">O</tspan> <tspan x="230.7" textLength="6.2" lengthAdjust="spacingAndGlyphs">H</tspan> <tspan x="275.6" textLength="4.4" lengthAdjust="spacingAndGlyphs">L</tspan> <tspan x="318.0" textLength="6.2" lengthAdjust="spacingAndGlyphs">C</tspan></text>
<text y="45.7" font-size="12.4" fill="#ef5350" stroke="#ef5350"><tspan x="193.8" textLength="28.1" lengthAdjust="spacingAndGlyphs">6.612</tspan> <tspan x="238.1" textLength="28.6" lengthAdjust="spacingAndGlyphs">6.650</tspan> <tspan x="280.9" textLength="28.2" lengthAdjust="spacingAndGlyphs">6.221</tspan> <tspan x="325.3" textLength="27.9" lengthAdjust="spacingAndGlyphs">6.271</tspan> <tspan x="362.5" textLength="34.6" lengthAdjust="spacingAndGlyphs">−0.340</tspan> <tspan x="402.0" textLength="44.4" lengthAdjust="spacingAndGlyphs">(−5.14%)</tspan></text>
<text y="62.7" font-size="12.4"><tspan x="18.1" textLength="15.6" lengthAdjust="spacingAndGlyphs">MA</tspan> <tspan x="38.2" textLength="19.2" lengthAdjust="spacingAndGlyphs">(50,</tspan> <tspan x="62.3" textLength="29.6" lengthAdjust="spacingAndGlyphs">close,</tspan> <tspan x="97.2" textLength="10.3" lengthAdjust="spacingAndGlyphs">0)</tspan></text>
<text x="115.6" y="62.7" font-size="12.4" fill="#f44336" stroke="#f44336" textLength="28.8" lengthAdjust="spacingAndGlyphs">5.209</text>
<text y="79.7" font-size="12.4"><tspan x="18.2" textLength="21.8" lengthAdjust="spacingAndGlyphs">EMA</tspan> <tspan x="44.7" textLength="19.4" lengthAdjust="spacingAndGlyphs">(20,</tspan> <tspan x="68.9" textLength="29.7" lengthAdjust="spacingAndGlyphs">close,</tspan> <tspan x="103.8" textLength="10.5" lengthAdjust="spacingAndGlyphs">0)</tspan></text>
<text x="122.2" y="79.7" font-size="12.4" fill="#0c2a94" stroke="#0c2a94" textLength="28.4" lengthAdjust="spacingAndGlyphs">6.031</text>
<text y="582.6" font-size="12.4"><tspan x="18.8" textLength="14.2" lengthAdjust="spacingAndGlyphs">RSI</tspan> <tspan x="39.0" textLength="19.2" lengthAdjust="spacingAndGlyphs">(14,</tspan> <tspan x="63.1" textLength="30.5" lengthAdjust="spacingAndGlyphs">close)</tspan></text>
<text x="102.4" y="582.6" font-size="12.4" fill="#7e57c2" stroke="#7e57c2" textLength="28.7" lengthAdjust="spacingAndGlyphs">58.56</text>
<text x="32.9" y="795.4" font-size="12.3" textLength="70.4" lengthAdjust="spacingAndGlyphs">TradingView</text>
</g>
</svg>
</body></html>
